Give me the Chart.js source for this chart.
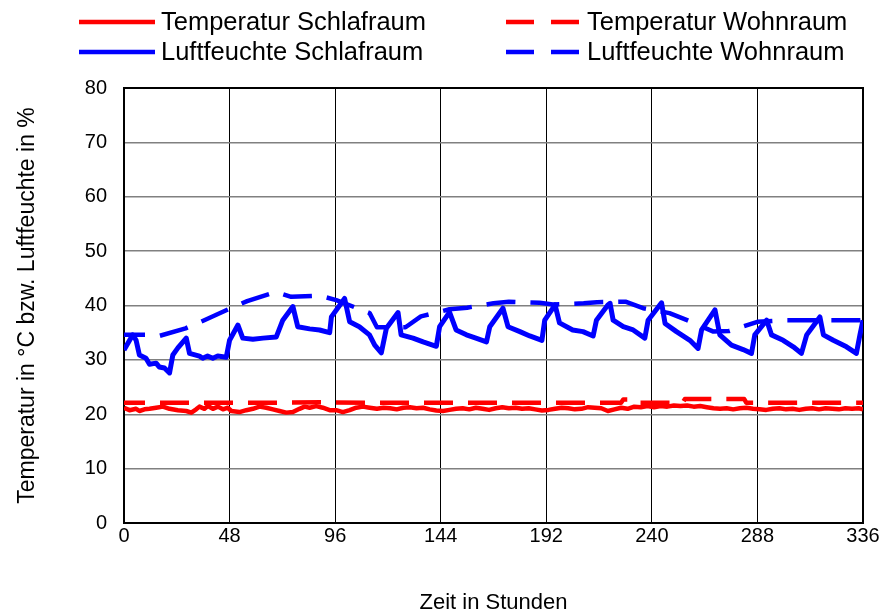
<!DOCTYPE html>
<html>
<head>
<meta charset="utf-8">
<script src="https://cdn.jsdelivr.net/npm/chart.js@4.4.1/dist/chart.umd.min.js"></script>
<style>
  html, body { margin: 0; padding: 0; background: #fff; }
  #wrap { width: 882px; height: 614px; position: relative; }
</style>
</head>
<body>
<div id="wrap"><canvas id="c" width="882" height="614"></canvas></div>
<script>
// ---- Data ----
const seriesNames = ["Temperatur Schlafraum", "Temperatur Wohnraum", "Luftfeuchte Schlafraum", "Luftfeuchte Wohnraum"];
const xTickValues = [0, 48, 96, 144, 192, 240, 288, 336];
const yTickValues = [0, 10, 20, 30, 40, 50, 60, 70, 80];

const tempSchlafHours = [0, 2.5, 5.5, 7, 9.3, 11.6, 14.6, 17.7, 20.7, 24.5, 28.3, 30.6, 32.8, 34.3, 36.6, 38.1, 40.4, 42.7, 45, 47.2, 48.8, 52.5, 55.6, 58.6, 61.6, 64.7, 67.7, 70.7, 73.8, 76.8, 79.8, 82.1, 84.4, 87.4, 90.4, 93.5, 96.5, 99.5, 102.6, 105.6, 108.6, 111.7,
  115, 118, 121, 124, 127, 130, 133, 136, 139, 142, 145, 148, 151, 154, 157, 160, 163, 166, 169, 172, 175, 178, 181, 184, 187, 190, 193, 196, 199, 202, 205, 208, 211, 214, 217, 220, 223, 226, 229, 232, 235, 238, 241, 244, 247, 250, 253, 256, 259, 262, 265, 268, 271, 274, 277, 280, 283, 286, 289, 292, 295, 298, 301, 304, 307, 310, 313, 316, 319, 322, 325, 328, 331, 334, 336];
const tempSchlafValues = [21.2, 20.75, 21.0, 20.6, 20.9, 21.0, 21.2, 21.4, 21.0, 20.75, 20.6, 20.3, 20.9, 21.4, 21.0, 21.5, 21.0, 21.4, 20.9, 21.2, 20.6, 20.4, 20.75, 21.0, 21.4, 21.2, 20.9, 20.6, 20.3, 20.4, 21.0, 21.4, 21.2, 21.5, 21.2, 20.75, 20.75, 20.4, 20.75, 21.2, 21.4, 21.2,
  21.0, 21.2, 21.1, 20.9, 21.2, 21.3, 21.1, 21.2, 20.9, 20.7, 20.6, 20.8, 21.0, 21.1, 20.9, 21.2, 21.0, 20.8, 21.1, 21.3, 21.1, 21.2, 21.0, 21.1, 20.9, 20.7, 20.8, 21.0, 21.2, 21.1, 20.9, 21.0, 21.3, 21.2, 21.1, 20.6, 20.9, 21.2, 21.0, 21.4, 21.3, 21.5, 21.3, 21.5, 21.4, 21.6, 21.5, 21.6, 21.4, 21.5, 21.3, 21.1, 21.0, 21.1, 20.9, 21.1, 21.2, 21.0, 20.9, 20.8, 21.0, 21.1, 20.9, 21.0, 20.8, 21.0, 21.1, 20.9, 21.1, 21.0, 20.9, 21.1, 21.0, 21.1, 20.9];

const tempWohnHours = [0, 30, 60, 90, 120, 150, 180, 210, 226, 227, 229, 230, 254, 255, 282, 283, 310, 336];
const tempWohnValues = [22.1, 22.1, 22.1, 22.2, 22.1, 22.1, 22.1, 22.1, 22.1, 22.7, 22.7, 22.1, 22.1, 22.8, 22.8, 22.1, 22.1, 22.1];

const humSchlafHours = [0, 4, 5.5, 7, 10, 11.6, 14.6, 16, 18.4, 20.7, 22.2, 24.5, 28.3, 29.8, 34.3, 35.8, 38, 40.4, 42.6, 46.5, 48, 51.8, 54, 58.6, 63.2, 69.2, 72.2, 76.8, 79, 84.4, 88.9, 93.5, 94.3, 100.3, 102.6, 107, 111.6, 114, 117, 119.3, 124.6, 126, 131.4, 136, 142, 143.5, 148, 151, 155.7, 160, 164.8, 166.3, 172.3, 174.6, 180, 184.5, 190, 191.3, 196, 198, 204, 208.7, 213.3, 214.8, 220, 221, 222.4, 227, 231.5, 236.8, 238.3, 244.4, 246, 251.2, 257.3, 261, 262.6, 268.7, 270.9, 276.2, 281.5, 285.3, 286.8, 292.2, 294.4, 299.7, 304.3, 308, 310.4, 316.4, 318, 322.5, 328.5, 333, 334.6, 336];
const humSchlafValues = [31.8, 34.6, 33.6, 30.9, 30.3, 29.2, 29.4, 28.7, 28.5, 27.6, 30.9, 32.2, 34.0, 31.2, 30.7, 30.3, 30.7, 30.3, 30.7, 30.5, 33.6, 36.4, 34.0, 33.8, 34.0, 34.2, 37.3, 39.8, 36.1, 35.7, 35.5, 35.0, 37.9, 41.3, 37.0, 36.1, 34.6, 32.7, 31.3, 35.8, 38.7, 34.6, 34.0, 33.3, 32.5, 36.1, 38.8, 35.5, 34.6, 34.0, 33.3, 36.1, 39.5, 36.1, 35.2, 34.4, 33.6, 37.3, 40.1, 36.8, 35.5, 35.2, 34.4, 37.3, 40.1, 40.4, 37.3, 36.1, 35.5, 34.0, 37.3, 40.5, 36.7, 35.2, 33.6, 32.1, 35.5, 39.2, 34.6, 32.7, 31.9, 31.2, 34.6, 37.3, 34.6, 33.6, 32.4, 31.2, 34.6, 37.9, 34.6, 33.6, 32.4, 31.2, 34.6, 37.3];

const humWohnHours = [0, 10, 16, 28, 36, 49, 56, 69, 76, 89, 96.5, 111.7, 115, 128, 135, 148, 156, 168, 175, 189, 195, 209, 215, 228, 236, 248, 256, 268, 275, 288, 300, 336];
const humWohnValues = [34.6, 34.6, 34.4, 35.8, 37.2, 39.6, 40.8, 42.5, 41.6, 41.8, 41.0, 38.6, 36.0, 36.0, 38.0, 39.3, 39.6, 40.4, 40.7, 40.5, 40.2, 40.4, 40.6, 40.7, 39.5, 38.6, 37.3, 35.2, 35.3, 37.0, 37.3, 37.3];

// ---- Build ----
function pts(hs, vs) { return hs.map((h, i) => ({ x: h, y: vs[i] })); }
const RED = '#ff0000', BLUE = '#0000ff';
const DASH = [29, 15];
const FONT = '"Liberation Sans", Arial, sans-serif';

const styles = [
  { color: RED, dash: [] },
  { color: RED, dash: DASH },
  { color: BLUE, dash: [] },
  { color: BLUE, dash: DASH }
];

const datasets = [
  { label: seriesNames[0], data: pts(tempSchlafHours, tempSchlafValues), borderColor: RED, borderWidth: 4.5 },
  { label: seriesNames[1], data: pts(tempWohnHours, tempWohnValues), borderColor: RED, borderWidth: 4.5, borderDash: DASH, borderDashOffset: 8 },
  { label: seriesNames[2], data: pts(humSchlafHours, humSchlafValues), borderColor: BLUE, borderWidth: 5 },
  { label: seriesNames[3], data: pts(humWohnHours, humWohnValues), borderColor: BLUE, borderWidth: 4.5, borderDash: DASH, borderDashOffset: 8 }
].map(d => Object.assign(d, { pointRadius: 0, tension: 0, fill: false, borderCapStyle: 'butt', borderJoinStyle: 'round' }));

const framePlugin = {
  id: 'frame',
  beforeDatasetsDraw(chart) {
    const { ctx, chartArea: a } = chart;
    ctx.save();
    ctx.strokeStyle = '#000';
    ctx.lineWidth = 2;
    ctx.strokeRect(a.left, a.top, a.right - a.left, a.bottom - a.top);
    ctx.restore();
  }
};

const legendPlugin = {
  id: 'customLegend',
  afterDraw(chart) {
    const ctx = chart.ctx;
    const cols = [{ x0: 79, x1: 155, tx: 161 }, { x0: 506, x1: 579, tx: 587 }];
    const rows = [22, 52];
    const order = [[0, 0, 0], [1, 0, 1], [2, 1, 0], [3, 1, 1]]; // dataset, row, col
    ctx.save();
    ctx.font = '25.5px ' + FONT;
    ctx.textBaseline = 'middle';
    ctx.fillStyle = '#000';
    order.forEach(([di, r, c]) => {
      const col = cols[c], y = rows[r], st = styles[di];
      ctx.strokeStyle = st.color;
      ctx.lineWidth = 4.5;
      ctx.lineCap = 'butt';
      ctx.beginPath();
      if (st.dash.length) {
        ctx.moveTo(col.x0, y); ctx.lineTo(col.x0 + 28, y);
        ctx.moveTo(col.x1 - 28, y); ctx.lineTo(col.x1, y);
      } else {
        ctx.moveTo(col.x0, y); ctx.lineTo(col.x1, y);
      }
      ctx.stroke();
      ctx.fillText(seriesNames[di], col.tx, y + 1);
    });
    ctx.restore();
  }
};

new Chart(document.getElementById('c'), {
  type: 'line',
  data: { datasets },
  options: {
    responsive: false,
    animation: false,
    devicePixelRatio: 1,
    layout: { padding: { top: 88, right: 19, bottom: 0, left: 0 } },
    plugins: { legend: { display: false }, tooltip: { enabled: false } },
    scales: {
      x: {
        type: 'linear', min: 0, max: 336,
        afterBuildTicks(s) { s.ticks = xTickValues.map(v => ({ value: v })); },
        afterFit(s) { s.height = 91; },
        grid: { color: '#000', lineWidth: 1, drawTicks: false },
        border: { display: false },
        ticks: { color: '#000', font: { family: FONT, size: 20 }, padding: 1, maxRotation: 0 },
        title: { display: true, text: 'Zeit in Stunden', color: '#000', font: { family: FONT, size: 22, lineHeight: 1.0 }, padding: { top: 0, bottom: 0 } }
      },
      y: {
        type: 'linear', min: 0, max: 80,
        afterBuildTicks(s) { s.ticks = yTickValues.map(v => ({ value: v })); },
        afterFit(s) { s.width = 124; },
        grid: { color: '#808080', lineWidth: 1.5, drawTicks: false },
        border: { display: false },
        ticks: { color: '#000', font: { family: FONT, size: 20 }, padding: 17 },
        title: { display: true, text: 'Temperatur in °C bzw. Luftfeuchte in %', color: '#000', font: { family: FONT, size: 23, lineHeight: 1.1 }, padding: { top: 15, bottom: 0 } }
      }
    }
  },
  plugins: [framePlugin, legendPlugin]
});
</script>
</body>
</html>
